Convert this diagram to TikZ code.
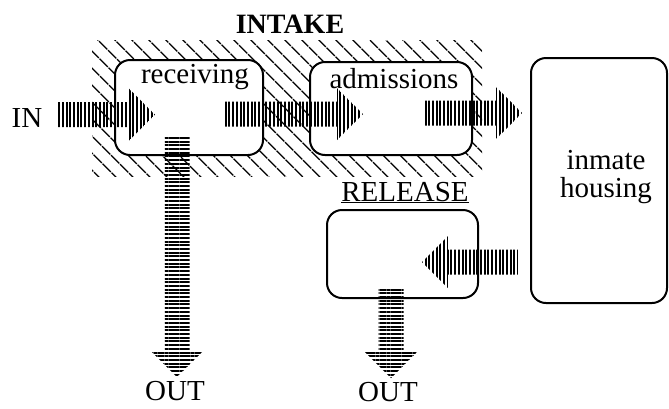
\documentclass[tikz,border=0pt]{standalone}
\usepackage{fontspec}
\setmainfont{Liberation Serif}
\usetikzlibrary{calc,patterns.meta}

\begin{document}
\begin{tikzpicture}[x=1pt,y=-1pt, box/.style={draw,line width=2pt,rounded corners=15pt,fill=white,inner sep=0pt}, lbl/.style={font=\fontsize{29}{28}\selectfont,inner sep=0pt}, ttl/.style={font=\fontsize{28}{30}\selectfont\bfseries,inner sep=0pt}, flow/.style={to path={let \p1=(\tikztostart), \p2=(\tikztotarget), \n1={atan2(\y2-\y1,\x2-\x1)}, \n2={veclen(\x2-\x1,\y2-\y1)-26pt} in (\p1) ++(\n1+90:12.5pt) -- ++(\n1:\n2) -- ++(\n1+90:13.5pt) -- (\p2) -- ($(\p1)+(\n1:\n2)+(\n1-90:26pt)$) -- ++(\n1+90:13.5pt) -- ++(\n1:-\n2) -- cycle}}, hflow/.style={flow,pattern={Lines[angle=90,distance=3.7pt,line width=2pt]}}, vflow/.style={flow,pattern={Lines[angle=0,distance=3.7pt,line width=2pt]}}, hatch/.style={pattern={Lines[angle=-45,distance=13pt,line width=1.5pt]}}]
\useasboundingbox (0,0) rectangle (669,408);
\path[hatch] (92,40) rectangle (482,176);
\node[box,minimum width=148pt,minimum height=95pt] (recv) at (189,107.5) {};
\node[box,minimum width=162pt,minimum height=93pt] (adm) at (391,108.5) {};
\node[box,minimum width=136pt,minimum height=245pt] (hsg) at (599,180.5) {};
\node[box,minimum width=151pt,minimum height=88pt] (rel) at (402.5,254) {};
\node[ttl,anchor=base] (intake) at (290,33) {INTAKE};
\node[lbl,anchor=base] (intxt) at (27,127) {IN};
\node[lbl,anchor=base] (recvtxt) at (195,83) {receiving};
\node[lbl,anchor=base] (admtxt) at (394,88) {admissions};
\node[lbl,align=center] (hsgtxt) at (606,177) {inmate\\housing};
\node[lbl,anchor=base] (reltxt) at (405,201) {\underline{RELEASE}};
\node[lbl,anchor=base] (out1) at (175,400) {OUT};
\node[lbl,anchor=base] (out2) at (388,401) {OUT};
\coordinate (in-a) at (57,114.5); \coordinate (in-b) at (155,114.5);
\coordinate (recv-a) at (223,114); \coordinate (adm-b) at (363,114);
\coordinate (adm-a) at (425,113); \coordinate (hsg-b) at (522,113);
\coordinate (hsg-a) at (518,262); \coordinate (rel-b) at (422,262);
\coordinate (recv-c) at (177,135); \coordinate (out1-b) at (177,377);
\coordinate (rel-c) at (391,287); \coordinate (out2-b) at (391,378);
\path[hflow] (in-a) to (in-b); \path[hflow] (recv-a) to (adm-b); \path[hflow] (adm-a) to (hsg-b); \path[hflow] (hsg-a) to (rel-b);
\path[vflow] (recv-c) to (out1-b); \path[vflow] (rel-c) to (out2-b);
\end{tikzpicture}
\end{document}
